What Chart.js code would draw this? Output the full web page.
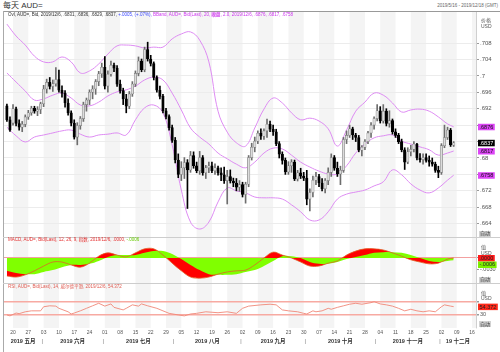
<!DOCTYPE html>
<html><head><meta charset="utf-8">
<script src="https://cdn.jsdelivr.net/npm/chart.js@4.4.1/dist/chart.umd.min.js"></script>
<style>
html,body{margin:0;padding:0;background:#fff;}
body{width:500px;height:352px;position:relative;overflow:hidden;font-family:"Liberation Sans","Noto Sans CJK SC",sans-serif;}
canvas{position:absolute;left:0;}
.t{position:absolute;white-space:nowrap;line-height:1;}
.lg{font-size:4.5px;left:8px;}
.ax{font-size:5px;color:#555;left:481px;}
.auto{font-size:5px;background:#d2d2d2;color:#333;left:479px;padding:0.5px 1px;}
.hl{position:absolute;height:1px;background:#cdcdcd;left:3px;width:497px;}
</style></head>
<body>
<div class="t" style="left:3px;top:2px;font-size:8px;color:#333;">每天 AUD=</div>
<div class="t" style="right:2px;top:4px;font-size:4.5px;color:#666;">2019/5/16 - 2019/12/18 (GMT)</div>
<div class="hl" style="top:11px;background:#999;"></div>
<div style="position:absolute;left:3px;top:11px;width:1px;height:341px;background:#aaa;"></div>

<canvas id="c1" width="500" height="225" style="top:12px"></canvas>
<canvas id="c2" width="500" height="46" style="top:237px"></canvas>
<canvas id="c3" width="500" height="69" style="top:283px"></canvas>
<div class="hl" style="top:237px;"></div>
<div class="hl" style="top:283px;"></div>

<div class="t lg" style="top:12.8px;"><span style="color:#333">Ovl, AUD=, Bid, 2019/12/6, .6831, .6836, .6829, .6837, </span><span style="color:#3a46ff">+.0005, (+.07%), </span><span style="color:#cc33ee">BBand, AUD=, Bid(Last), 20, <span style="background:#f0c4f8">收盘</span>, 2.0, 2019/12/6, .6876, .6817, .6758</span></div>
<div class="t lg" style="top:238px;"><span style="color:#e53030">MACD, AUD=, Bid(Last), 12, 26, 9, 指数, 2019/12/6, .0000, </span><span style="color:#66cc00">-.0006</span></div>
<div class="t lg" style="top:284.8px;color:#e05a50;">RSI, AUD=, Bid(Last), 14, 威尔德平滑, 2019/12/6, 54.372</div>

<div class="t ax" style="top:17.5px;">价格</div>
<div class="t ax" style="top:23.5px;">USD</div>
<div class="t auto" style="top:230.5px;">自动</div>
<div class="t ax" style="top:244.5px;">值</div>
<div class="t ax" style="top:250.5px;">USD</div>
<div class="t auto" style="top:276.5px;">自动</div>
<div class="t ax" style="top:290.5px;">值</div>
<div class="t ax" style="top:296px;">USD</div>
<div class="t auto" style="top:321px;">自动</div>

<script>
// ---------- data ----------
const startDate = '2019-05-16', endDate = '2019-12-18';
const weekTickLabels = ['20','27','03','10','17','24','01','08','15','22','29','05','12','19','26','02','09','16','23','30','07','14','21','28','04','11','18','25','02','09','16'];
const monthLabels = ['2019 五月','2019 六月','2019 七月','2019 八月','2019 九月','2019 十月','2019 十一月','19 十二月'];
const priceTicks = [.664,.668,.672,.676,.68,.684,.688,.692,.696,.7,.704,.708];

const open = [.6927,.6893,.6885,.6920,.6884,.6875,.6882,.6900,.6910,.6921, .6914,.6918,.6932,.6968,.6984,.6974,.6981,.6991,.6965,.6958,
 .6934,.6910,.6885,.6851,.6879,.6896,.6930,.6941,.6960,.6968, .6986,.7005,.7021,.6975,.7004,.7026,.7019,.6980,.6964,.6944,
 .6926,.6956,.6980,.7006,.7036,.7015,.7064,.7041,.7030,.6996, .6965,.6950,.6915,.6901,.6874,.6843,.6795,.6760,.6776,.6789,
 .6771,.6806,.6781,.6769,.6801,.6764,.6776,.6781,.6769,.6776, .6764,.6759,.6745,.6755,.6744,.6739,.6729,.6735,.6711,.6736,
 .6801,.6826,.6841,.6860,.6853,.6866,.6882,.6870,.6864,.6835, .6809,.6794,.6766,.6781,.6790,.6749,.6764,.6756,.6751,.6700,
 .6716,.6746,.6755,.6739,.6725,.6745,.6765,.6801,.6775,.6761, .6770,.6845,.6855,.6871,.6856,.6850,.6819,.6826,.6840,.6861,
 .6880,.6896,.6915,.6890,.6914,.6884,.6891,.6864,.6855,.6840, .6820,.6790,.6815,.6821,.6834,.6800,.6796,.6801,.6794,.6790,
 .6785,.6770,.6765,.6830,.6850,.6868,.6831];
const high = [.6931,.6900,.6930,.6924,.6893,.6889,.6905,.6916,.6926,.6926, .6925,.6936,.6977,.6992,.6996,.6990,.7020,.7014,.6976,.6964,
 .6944,.6915,.6893,.6886,.6901,.6936,.6946,.6966,.6976,.6991, .7011,.7031,.7047,.7012,.7036,.7031,.7025,.6990,.6970,.6955,
 .6962,.6986,.7012,.7046,.7041,.7070,.7082,.7050,.7034,.7000, .6975,.6955,.6921,.6905,.6880,.6850,.6810,.6791,.6801,.6796,
 .6816,.6815,.6790,.6816,.6806,.6782,.6790,.6790,.6786,.6780, .6776,.6778,.6770,.6771,.6751,.6750,.6745,.6741,.6741,.6806,
 .6836,.6851,.6866,.6871,.6871,.6895,.6890,.6880,.6870,.6840, .6815,.6800,.6791,.6796,.6795,.6770,.6775,.6765,.6770,.6725,
 .6756,.6765,.6760,.6750,.6750,.6776,.6810,.6806,.6790,.6780, .6850,.6866,.6880,.6875,.6860,.6855,.6830,.6845,.6865,.6886,
 .6900,.6930,.6925,.6930,.6920,.6915,.6895,.6871,.6860,.6846, .6825,.6825,.6831,.6840,.6836,.6811,.6810,.6810,.6805,.6800,
 .6790,.6780,.6835,.6880,.6875,.6872,.6840];
const low = [.6889,.6865,.6880,.6878,.6868,.6864,.6876,.6894,.6904,.6909, .6903,.6908,.6925,.6958,.6968,.6962,.6975,.6960,.6948,.6924,
 .6904,.6878,.6846,.6832,.6870,.6889,.6914,.6930,.6944,.6955, .6976,.6996,.6968,.6960,.6999,.7010,.6974,.6958,.6930,.6910,
 .6920,.6950,.6974,.7000,.7010,.7010,.7036,.7024,.6990,.6960, .6944,.6910,.6895,.6868,.6838,.6788,.6752,.6745,.6750,.6677,
 .6765,.6775,.6764,.6760,.6758,.6750,.6764,.6764,.6760,.6758, .6745,.6738,.6688,.6739,.6730,.6720,.6719,.6705,.6690,.6730,
 .6795,.6815,.6835,.6845,.6845,.6850,.6864,.6855,.6830,.6800, .6785,.6760,.6760,.6765,.6745,.6744,.6750,.6745,.6686,.6671,
 .6705,.6735,.6730,.6720,.6715,.6735,.6755,.6770,.6755,.6735, .6765,.6835,.6850,.6845,.6840,.6815,.6805,.6820,.6835,.6850,
 .6870,.6890,.6885,.6885,.6878,.6875,.6858,.6850,.6835,.6815, .6772,.6786,.6805,.6815,.6795,.6790,.6785,.6790,.6780,.6780,
 .6765,.6752,.6760,.6825,.6845,.6828,.6828];
const close = [.6893,.6868,.6920,.6884,.6875,.6882,.6900,.6910,.6921,.6914, .6918,.6932,.6968,.6984,.6974,.6981,.6991,.6965,.6958,.6934,
 .6910,.6885,.6851,.6879,.6896,.6930,.6941,.6960,.6968,.6986, .7005,.7021,.6975,.7004,.7026,.7019,.6980,.6964,.6944,.6926,
 .6956,.6980,.7006,.7036,.7015,.7064,.7041,.7030,.6996,.6965, .6950,.6915,.6901,.6874,.6843,.6795,.6760,.6776,.6789,.6771,
 .6806,.6781,.6769,.6801,.6764,.6776,.6781,.6769,.6776,.6764, .6759,.6745,.6755,.6744,.6739,.6729,.6735,.6711,.6736,.6801,
 .6826,.6841,.6860,.6853,.6866,.6882,.6870,.6864,.6835,.6809, .6794,.6766,.6781,.6790,.6749,.6764,.6756,.6751,.6700,.6716,
 .6746,.6755,.6739,.6725,.6745,.6765,.6801,.6775,.6761,.6770, .6845,.6855,.6871,.6856,.6850,.6819,.6826,.6840,.6861,.6880,
 .6896,.6915,.6890,.6914,.6884,.6891,.6864,.6855,.6840,.6820, .6790,.6815,.6821,.6834,.6800,.6796,.6801,.6794,.6790,.6785,
 .6770,.6765,.6830,.6850,.6868,.6832,.6837];

const sampleIdx = [0,3,6,9,12,15,18,21,24,27,30,33,36,39,42,45,48,51,54,57,60,63,66,69,72,75,78,81,84,87,90,93,96,99,102,105,108,111,114,117,120,123,126,129,132,135,138,141,144,146];
const bbUpper = [.7126,.7097,.7075,.7048,.7034,.7034,.7046,.7034,.7007,.7012,.7029,.7053,.7073,.7075,.7073,.7068,.7070,.7070,.7090,.7102,
 .7107,.7087,.7034,.6914,.6863,.6837,.6829,.6873,.6919,.6946,.6934,.6910,.6893,.6897,.6890,.6871,.6829,.6868,.6914,.6936,
 .6958,.6953,.6934,.6912,.6917,.6919,.6914,.6900,.6883,.6876];
const bbMiddle = [.7007,.6985,.6963,.6941,.6944,.6953,.6958,.6946,.6929,.6927,.6936,.6951,.6961,.6966,.6975,.6990,.6997,.6990,.6958,.6917,
 .6873,.6851,.6834,.6812,.6798,.6785,.6776,.6790,.6812,.6824,.6822,.6807,.6790,.6778,.6768,.6761,.6761,.6781,.6812,.6834,
 .6849,.6854,.6856,.6841,.6834,.6827,.6820,.6807,.6812,.6817];
const bbLower = [.6875,.6854,.6839,.6851,.6856,.6861,.6866,.6868,.6858,.6851,.6856,.6858,.6861,.6856,.6893,.6922,.6929,.6910,.6832,.6722,
 .6644,.6627,.6644,.6693,.6727,.6720,.6715,.6705,.6703,.6703,.6700,.6686,.6669,.6649,.6649,.6669,.6700,.6712,.6717,.6722,
 .6732,.6742,.6771,.6759,.6737,.6722,.6715,.6727,.6746,.6758];

const macdLine = [-.0049,-.0052,-.0046,-.0035,-.0022,-.0011,-.0011,-.0019,-.0025,-.0014,.0005,.0014,.0008,.0003,.0014,.0025,.0025,.0008,-.0014,-.0035,
 -.0052,-.0055,-.0052,-.0044,-.0038,-.0035,-.0033,-.0019,.0000,.0016,.0008,.0000,-.0011,-.0022,-.0022,-.0014,-.0008,.0008,.0019,.0025,
 .0025,.0022,.0014,.0005,-.0005,-.0011,-.0016,-.0014,-.0003,.0000];
const macdSignal = [-.0035,-.0041,-.0044,-.0044,-.0038,-.0033,-.0025,-.0019,-.0019,-.0016,-.0008,.0003,.0008,.0008,.0008,.0014,.0019,.0019,.0011,-.0003,
 -.0019,-.0033,-.0044,-.0046,-.0046,-.0044,-.0038,-.0033,-.0022,-.0008,.0005,.0005,.0000,-.0011,-.0016,-.0016,-.0011,-.0003,.0003,.0008,
 .0014,.0016,.0016,.0014,.0008,.0000,-.0008,-.0011,-.0008,-.0006];

const rsiIdx = [0,1,3,4,6,8,11,12,14,16,17,20,21,22,24,26,28,30,32,34,35,38,39,41,43,44,46,49,51,53,56,58,60,62,65,69,72,75,77,79,83,86,88,90,92,95,97,98,100,101,103,105,106,108,110,112,114,116,119,120,122,124,126,128,130,132,134,136,138,140,142,143,145,146];
const rsiVal = [28,25,34,32,38,41,41,54,57,56,49,38,31,34,41,49,57,65,56,63,52,44,49,60,56,63,57,49,41,33,28,25,31,33,38,35,38,33,49,56,60,62,60,44,41,38,33,31,41,38,41,49,46,52,57,62,65,62,67,70,63,60,56,49,41,46,41,38,41,38,54,60,56,54.372];

// ---------- calendar / axis helpers ----------
const days = [];
for (let t = Date.parse(startDate + 'T00:00:00Z'); t <= Date.parse(endDate + 'T00:00:00Z'); t += 864e5) {
  const d = new Date(t); const w = d.getUTCDay(); if (w > 0 && w < 6) days.push(d);
}
const mondays = []; days.forEach((d, i) => { if (d.getUTCDay() === 1) mondays.push(i); });
const X_MIN = -0.95, X_MAX = 153.3;
const monthBounds = [X_MIN];
for (let i = 1; i < days.length; i++) if (days[i].getUTCMonth() !== days[i-1].getUTCMonth()) monthBounds.push(i - 0.5);
monthBounds.push(X_MAX);
const monthTicks = [];
for (let k = 0; k < monthBounds.length - 1; k++) {
  monthTicks.push({value: (monthBounds[k] + monthBounds[k+1]) / 2, label: monthLabels[k]});
  if (k < monthBounds.length - 2) monthTicks.push({value: monthBounds[k+1], label: '|'});
}
const fmt4 = v => v.toFixed(4).replace(/^(-?)0\./, '$1.');
const last = a => a[a.length - 1];
const idx = open.map((_, i) => i);
const isUp = i => close[i] >= open[i];

Chart.defaults.font.family = '"Liberation Sans","Noto Sans CJK SC",sans-serif';

const stripes = {id: 'stripes', beforeDraw(c) {
  const {ctx, chartArea: a, scales: {x}} = c;
  ctx.save(); ctx.fillStyle = '#f4f4f4';
  mondays.forEach((m, k) => {
    if (k % 2) return;
    const x0 = Math.max(a.left, x.getPixelForValue(m)), x1 = Math.min(a.right, x.getPixelForValue(m + 5));
    if (x1 > x0) ctx.fillRect(x0, a.top, x1 - x0, a.bottom - a.top);
  });
  ctx.restore();
}};
function makeTags(items) {
  return {id: 'tags', afterDraw(c) {
    const {ctx, chartArea: a, scales: {y}} = c;
    let prev = -1e9;
    items.map(t => Object.assign({}, t, {py: y.getPixelForValue(t.value)})).sort((p, q) => p.py - q.py).forEach(t => {
      const py = Math.max(t.py, prev + 6.5); prev = py;
      ctx.save(); ctx.font = '5.5px "Liberation Sans"';
      const w = ctx.measureText(t.text).width + 3;
      ctx.fillStyle = t.bg; ctx.fillRect(a.right + 2, py - 3, w, 6.5);
      ctx.fillStyle = t.fg; ctx.textBaseline = 'middle'; ctx.fillText(t.text, a.right + 3.5, py + 0.4);
      ctx.restore();
    });
  }};
}
const fitRight = s => { s.width = 24; s.paddingTop = 0; s.paddingBottom = 0; };
const hiddenX = {type: 'linear', min: X_MIN, max: X_MAX, display: false, offset: false};
const base = {responsive: false, animation: false, devicePixelRatio: 1,
  layout: {padding: {left: 4, right: 0, top: 0, bottom: 0}},
  plugins: {legend: {display: false}, tooltip: {enabled: false}}};
const BB = '#de8cf3';

// ---------- main price chart ----------
const mainTags = [
  {value: last(bbUpper), text: fmt4(last(bbUpper)), bg: '#dc45f6', fg: '#111'},
  {value: last(close), text: fmt4(last(close)), bg: '#000', fg: '#fff'},
  {value: last(bbMiddle), text: fmt4(last(bbMiddle)), bg: '#dc45f6', fg: '#111'},
  {value: last(bbLower), text: fmt4(last(bbLower)), bg: '#dc45f6', fg: '#111'}];
const bbLine = (arr) => ({type: 'line', data: sampleIdx.map((x, k) => ({x, y: arr[k]})), borderColor: BB, borderWidth: 1, pointRadius: 0, tension: 0.4, fill: false, order: 2});
new Chart(document.getElementById('c1'), {
  type: 'bar',
  data: {datasets: [
    {data: idx.map(i => ({x: i, y: [open[i], close[i]]})), backgroundColor: c => isUp(c.dataIndex) ? '#dcdcdc' : '#000',
      borderColor: c => isUp(c.dataIndex) ? '#808080' : '#000', borderWidth: 0.6, borderSkipped: false,
      barThickness: 2.5, minBarLength: 1, grouped: false, order: 0},
    {data: idx.map(i => ({x: i, y: [low[i], high[i]]})), backgroundColor: c => isUp(c.dataIndex) ? '#6e6e6e' : '#000', barThickness: 1, grouped: false, borderWidth: 0, order: 1},
    bbLine(bbUpper), bbLine(bbMiddle), bbLine(bbLower)
  ]},
  options: Object.assign({}, base, {scales: {
    x: hiddenX,
    y: {position: 'right', min: .66076, max: .71555, afterFit: fitRight,
      afterBuildTicks: s => { s.ticks = priceTicks.map(v => ({value: v})); },
      border: {display: true, color: '#cfcfcf'},
      grid: {color: '#ececec', tickLength: 3, tickColor: '#999'},
      ticks: {padding: 1, color: '#555', font: {size: 6}, autoSkip: false,
        callback: v => mainTags.some(t => Math.abs(t.value - v) < 0.0012) ? '' : String(+v.toFixed(3)).replace(/^0/, '')}}
  }}),
  plugins: [stripes, makeTags(mainTags)]
});

// ---------- MACD ----------
const ptsM = arr => sampleIdx.map((x, k) => ({x, y: arr[k]}));
new Chart(document.getElementById('c2'), {
  type: 'line',
  data: {datasets: [
    {data: ptsM(macdLine), borderColor: '#e0622a', borderWidth: 0.8, pointRadius: 0, tension: 0.35, fill: false, order: 0},
    {data: ptsM(macdSignal), borderWidth: 0, backgroundColor: '#80ff00', pointRadius: 0, tension: 0.35, fill: 'origin', order: 1},
    {data: ptsM(macdLine), borderWidth: 0, backgroundColor: '#ff0000', pointRadius: 0, tension: 0.35, fill: 'origin', order: 2}
  ]},
  options: Object.assign({}, base, {scales: {
    x: hiddenX,
    y: {position: 'right', min: -0.006818, max: 0.005727, afterFit: fitRight,
      afterBuildTicks: s => { s.ticks = [{value: -0.003}, {value: 0}]; },
      border: {display: true, color: '#cfcfcf'},
      grid: {color: c => c.tick && c.tick.value === 0 ? '#f3a0a0' : 'rgba(0,0,0,0)', tickLength: 3, tickColor: '#999'},
      ticks: {padding: 1, color: '#555', font: {size: 5.5}, autoSkip: false, callback: v => v === 0 ? '' : fmt4(v)}}
  }}),
  plugins: [stripes, makeTags([
    {value: last(macdLine), text: fmt4(last(macdLine)), bg: '#ff1a1a', fg: '#222'},
    {value: last(macdSignal), text: fmt4(last(macdSignal)), bg: '#7cf000', fg: '#222'}])]
});

// ---------- RSI + date axis ----------
new Chart(document.getElementById('c3'), {
  type: 'line',
  data: {datasets: [
    {data: rsiIdx.map((x, k) => ({x, y: rsiVal[k]})), borderColor: '#f08878', borderWidth: 0.9, pointRadius: 0, tension: 0, fill: false}
  ]},
  options: Object.assign({}, base, {scales: {
    x: {type: 'linear', min: X_MIN, max: X_MAX, position: 'bottom', offset: false,
      afterBuildTicks: s => { s.ticks = mondays.map(v => ({value: v})); },
      afterFit: s => { s.height = 9; s.paddingLeft = 0; s.paddingRight = 0; },
      grid: {display: false, drawTicks: false}, border: {display: false},
      ticks: {autoSkip: false, maxRotation: 0, minRotation: 0, padding: 2, color: '#555', font: {size: 5},
        callback: (v, i) => weekTickLabels[i]}},
    xm: {type: 'linear', min: X_MIN, max: X_MAX, position: 'bottom', offset: false,
      afterBuildTicks: s => { s.ticks = monthTicks.map(t => ({value: t.value})); },
      afterFit: s => { s.height = 15; s.paddingLeft = 0; s.paddingRight = 0; },
      grid: {display: false, drawTicks: false}, border: {display: false},
      ticks: {autoSkip: false, maxRotation: 0, minRotation: 0, padding: 1,
        color: c => monthTicks[c.index] && monthTicks[c.index].label === '|' ? '#777' : '#333',
        font: c => ({size: 5.5, weight: monthTicks[c.index] && monthTicks[c.index].label === '|' ? 'normal' : 'bold'}),
        callback: (v, i) => monthTicks[i].label}},
    y: {position: 'right', min: -13.5, max: 129.4, afterFit: fitRight,
      afterBuildTicks: s => { s.ticks = [{value: 30}, {value: 70}]; },
      border: {display: true, color: '#cfcfcf'},
      grid: {color: '#f7aaa2', lineWidth: 1.4, tickLength: 3, tickColor: '#999'},
      ticks: {padding: 1, color: '#555', font: {size: 5.5}, autoSkip: false, callback: v => v === 30 ? '30' : ''}}
  }}),
  plugins: [stripes, makeTags([{value: last(rsiVal), text: String(last(rsiVal)), bg: '#ff2a1a', fg: '#222'}])]
});
</script>
</body></html>
